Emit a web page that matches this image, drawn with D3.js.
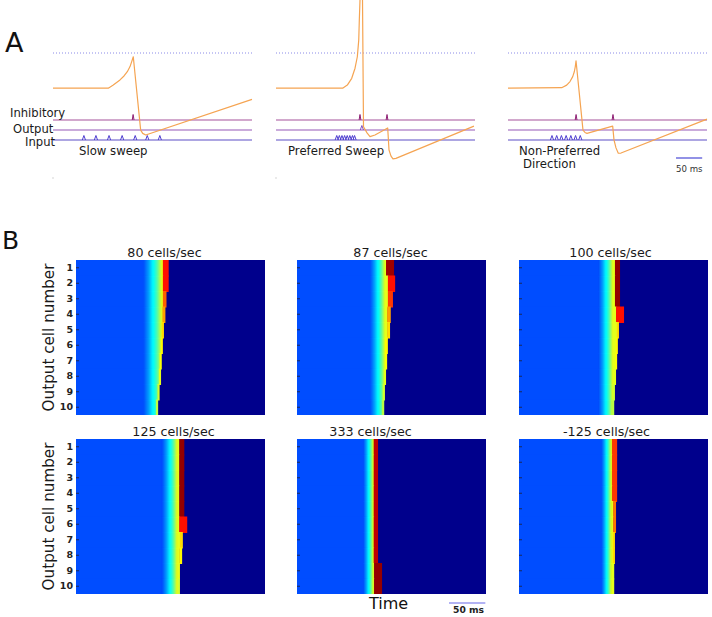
<!DOCTYPE html>
<html><head><meta charset="utf-8">
<script src="https://cdn.jsdelivr.net/npm/d3@7"></script>
<style>body{margin:0;background:#fff}svg{display:block}text{font-family:'DejaVu Sans',sans-serif}</style>
</head><body><svg id="c" width="712" height="617"></svg>
<script>
// ---------------- Panel A data ----------------
const sweepLabels = [["Slow sweep"], ["Preferred Sweep"], ["Non-Preferred", "Direction"]];
const rasterRows = ["Inhibitory", "Output", "Input"];
// membrane trace (time ms, potential mV) for each sweep
const traceT1 = [0, 105.6, 115.1, 127.9, 135.6, 141.9, 147.1, 150.3, 153.3, 167.4, 171.3, 177, 380];
const traceV1 = [-70, -70, -68.7, -66.5, -64.8, -63.0, -60.8, -58.7, -56.6, -87.9, -89.3, -90, -74.8];
const traceT2 = [0, 127.3, 136.2, 144.6, 150.9, 155.3, 158, 159.1, 160.4, 162.9, 165.2, 167.1, 173.8, 179.5, 189, 213.3, 215.8, 219.6, 223.4, 229, 378];
const traceV2 = [-70, -70, -68.7, -65.8, -61.5, -56.6, -49.5, -40.9, -32.4, 20, -32.4, -86.5, -89.1, -90.7, -90, -87, -96.4, -99, -100.2, -100, -86.2];
const traceT3 = [0, 102.5, 112.1, 118.4, 123.6, 126.6, 128.5, 129.9, 143.2, 147, 150.8, 199.9, 202.4, 206.2, 210.6, 215.8, 380];
const traceV3 = [-70, -69.8, -68.7, -67.2, -65.1, -63.0, -60.8, -58.3, -87.9, -88.9, -89.3, -86.2, -92.1, -95.5, -97.8, -97.7, -83.2];
const traceT = [traceT1, traceT2, traceT3];
const traceV = [traceV1, traceV2, traceV3];
const thresholdMV = -55;
// spike times (ms)
const inputSpikes = [[59, 82, 107, 132, 157, 180, 204], [116, 121, 126, 131, 136, 141, 146, 150], [84, 93, 102, 111, 120, 129, 138]];
const outputSpikes = [[], [164], []];
const inhibSpikes = [[153], [160.4, 212], [130, 200.5]];
const scaleBarMs = 50;

// ---------------- Panel B data ----------------
const speedLabels = ["80 cells/sec", "87 cells/sec", "100 cells/sec", "125 cells/sec", "333 cells/sec", "-125 cells/sec"];
const cellNumbers = [1, 2, 3, 4, 5, 6, 7, 8, 9, 10];
const rampStart = [92, 100, 109, 118, 91, 113];     // ms where potential begins to rise
const rampEnd = [118, 121, 129, 139, 105, 127];     // ms where ramp reaches plateau
const rampShape = [0.20, 0.22, 0.25, 0.28, 0.32, 0.36, 0.39, 0.43, 0.48, 0.54, 0.60];
const spikeEnd = [
  [127.5, 127.5, 124.5, 123, 121, 119.5, 118, 117, 115, 113],
  [133.5, 135, 132, 129, 128, 125, 124, 122.5, 121, 120],
  [139, 139, 139, 144.5, 137.5, 136, 135, 133.5, 132, 131],
  [149, 149, 149, 149, 149, 153, 147, 146, 143, 143],
  [111.5, 111.5, 111.5, 111.5, 111.5, 111.5, 111.5, 111.5, 117, 117],
  [135, 135, 135, 135, 133.5, 133.5, 132, 132, 131, 131]
];
const spikeWidth = [
  [8, 8, 5, 4, 3, 3, 3, 3, 3, 3],
  [11, 10, 7, 5, 4, 4, 3, 3, 3, 3],
  [7, 7, 7, 11, 3, 3, 3, 3, 3, 3],
  [7, 7, 7, 7, 7, 11, 4, 4, 3, 3],
  [6, 6, 6, 6, 6, 6, 6, 6, 11, 11],
  [7, 7, 7, 7, 4, 4, 3, 3, 3, 3]
];
const spikeLevel = [
  [0.86, 0.86, 0.78, 0.72, 0.66, 0.63, 0.62, 0.60, 0.58, 0.56],
  [0.97, 0.86, 0.82, 0.72, 0.66, 0.63, 0.62, 0.60, 0.58, 0.56],
  [0.98, 0.98, 0.98, 0.86, 0.66, 0.63, 0.62, 0.60, 0.58, 0.56],
  [0.98, 0.98, 0.98, 0.98, 0.98, 0.86, 0.66, 0.63, 0.60, 0.58],
  [0.94, 0.94, 0.94, 0.94, 0.94, 0.94, 0.94, 0.94, 0.98, 0.98],
  [0.82, 0.82, 0.82, 0.82, 0.76, 0.76, 0.66, 0.66, 0.60, 0.60]
];

// ---------------- layout ----------------
const svg = d3.select("#c");
const subLeft = [53, 276, 508];
const labelDx = [[26], [12], [11, 15]];
const rowStroke = {Inhibitory: "#a6529c", Output: "#9658b8", Input: "#5c4ec6"};
const spikeStroke = {Inhibitory: "#8e1f74", Output: "#8050c8", Input: "#4e3ed0"};
const xA = d3.scaleLinear().domain([0, 380]).range([0, 199]);
const yV = d3.scaleLinear().domain([-90, -55]).range([135, 53]);
const yR = d3.scalePoint().domain(rasterRows).range([120, 140]);

svg.append("text").attr("x", 5).attr("y", 52).attr("font-size", 27).attr("fill", "#111").text("A");

sweepLabels.forEach((lines, i) => {
  const g = svg.append("g").attr("transform", `translate(${subLeft[i]},0)`);
  g.append("line").attr("x1", xA(0)).attr("x2", xA(380)).attr("y1", yV(thresholdMV)).attr("y2", yV(thresholdMV))
    .attr("stroke", "#8a8ae8").attr("stroke-width", 1).attr("stroke-dasharray", "1,2");
  const spikes = {Inhibitory: inhibSpikes[i], Output: outputSpikes[i], Input: inputSpikes[i]};
  rasterRows.forEach(r => {
    g.append("line").attr("x1", xA(0)).attr("x2", xA(380)).attr("y1", yR(r)).attr("y2", yR(r))
      .attr("stroke", rowStroke[r]).attr("stroke-width", 1.1);
    const h = r === "Inhibitory" ? 5.5 : 4.5, w = r === "Inhibitory" ? 0.9 : 1.6;
    g.selectAll(null).data(spikes[r]).enter().append("path")
      .attr("d", t => `M${xA(t) - w},${yR(r)} L${xA(t)},${yR(r) - h} L${xA(t) + w},${yR(r)}`)
      .attr("fill", "none").attr("stroke", spikeStroke[r]).attr("stroke-width", 1);
  });
  g.append("path").datum(d3.zip(traceT[i], traceV[i]))
    .attr("d", d3.line().x(d => xA(d[0])).y(d => yV(d[1])))
    .attr("fill", "none").attr("stroke", "#f5a452").attr("stroke-width", 1.2).attr("stroke-linejoin", "round");
  lines.forEach((s, k) => {
    g.append("text").attr("x", labelDx[i][k]).attr("y", 155 + k * 13).attr("font-size", 11.7).attr("fill", "#1a1a1a").text(s);
  });
  if (i < 2) g.append("rect").attr("x", -0.5).attr("y", 177.5).attr("width", 1).attr("height", 1).attr("fill", "#aaa");
  if (i === 0) {
    const lx = [10, 13, 25];
    rasterRows.forEach((r, k) => {
      svg.append("text").attr("x", lx[k]).attr("y", yR(r) - (k === 0 ? 3.5 : k === 1 ? -3 : -5.5))
        .attr("font-size", 11.6).attr("fill", "#1a1a1a").text(r);
    });
  }
  if (i === 2) {
    const bx = 168;
    g.append("line").attr("x1", bx).attr("x2", bx + xA(scaleBarMs) - xA(0)).attr("y1", 158).attr("y2", 158)
      .attr("stroke", "#4a4ad6").attr("stroke-width", 1.2);
    g.append("text").attr("x", bx).attr("y", 172).attr("font-size", 8.6).attr("fill", "#333").text(`${scaleBarMs} ms`);
  }
});

// ---------------- Panel B ----------------
svg.append("text").attr("x", 2).attr("y", 249).attr("font-size", 25).attr("fill", "#111").text("B");

const jet = d3.scaleLinear().domain([0, 0.125, 0.375, 0.625, 0.875, 1])
  .range(["#00008c", "#0000ff", "#00ffff", "#ffff00", "#ff0000", "#800000"]).clamp(true);
const xB = d3.scaleLinear().domain([0, 260]).range([0, 189]);
const yB = d3.scaleBand().domain(cellNumbers).range([0, 155]);
const panelX = [76, 297, 519, 76, 297, 519];
const panelY = [260, 260, 260, 439, 439, 439];
const titleDx = [-6, -1, -3, 3, -21, -7];

speedLabels.forEach((lab, p) => {
  const g = svg.append("g").attr("transform", `translate(${panelX[p]},${panelY[p]})`);
  g.append("rect").attr("x", xB(0)).attr("y", 0).attr("width", xB(260) - xB(0)).attr("height", 155).attr("fill", jet(0));
  const ramp = d3.scaleLinear().domain(rampShape.map((_, k) => k / (rampShape.length - 1))).range(rampShape).clamp(true);
  cellNumbers.forEach((c, r) => {
    const end = spikeEnd[p][r], start = end - spikeWidth[p][r];
    const val = t => t >= end ? 0 : t >= start ? spikeLevel[p][r] : ramp((t - rampStart[p]) / (rampEnd[p] - rampStart[p]));
    const dt = 0.25, runs = [];
    for (let t = 0; t < 260 - 1e-9; t += dt) {
      const col = jet(val(t + dt / 2));
      const last = runs[runs.length - 1];
      if (last && last.c === col) last.t1 = t + dt; else runs.push({t0: t, t1: t + dt, c: col});
    }
    g.selectAll(null).data(runs.filter(d => d.c !== jet(0))).enter().append("rect")
      .attr("x", d => xB(d.t0)).attr("y", yB(c))
      .attr("width", d => xB(d.t1) - xB(d.t0) + (d.t1 < end - 1e-9 ? 0.4 : 0))
      .attr("height", yB.bandwidth() + (r < 9 ? 1 : 0)).attr("fill", d => d.c);
  });
  const ax = d3.axisLeft(yB).tickSizeInner(-3).tickSizeOuter(0).tickPadding(3)
    .tickFormat(p % 3 === 0 ? d => d : () => "");
  const a = g.append("g").call(ax);
  a.select(".domain").remove();
  a.selectAll("line").attr("stroke", "#223").attr("stroke-width", 0.8);
  a.selectAll("text").attr("font-family", "'DejaVu Serif',serif").attr("font-weight", "bold")
    .attr("font-size", 9.5).attr("fill", "#222");
  g.append("text").attr("x", xB(130) + titleDx[p]).attr("y", -3).attr("text-anchor", "middle")
    .attr("font-size", 12.7).attr("fill", "#1a1a1a").text(lab);
  if (p % 3 === 0) {
    g.append("text").attr("transform", `translate(-22,${yB.range()[1] / 2}) rotate(-90)`)
      .attr("text-anchor", "middle").attr("font-size", 15.2).attr("fill", "#1a1a1a").text("Output cell number");
  }
  if (p === 4) {
    g.append("text").attr("x", xB(130) - 3).attr("y", 170).attr("text-anchor", "middle")
      .attr("font-size", 16).attr("fill", "#111").text("Time");
    const bx = 152;
    g.append("line").attr("x1", bx).attr("x2", bx + xB(scaleBarMs) - xB(0)).attr("y1", 164).attr("y2", 164)
      .attr("stroke", "#9a9af0").attr("stroke-width", 1.4);
    g.append("text").attr("x", bx + 4).attr("y", 174).attr("font-size", 9.2).attr("font-weight", "bold")
      .attr("fill", "#222").text(`${scaleBarMs} ms`);
  }
});
</script></body></html>
